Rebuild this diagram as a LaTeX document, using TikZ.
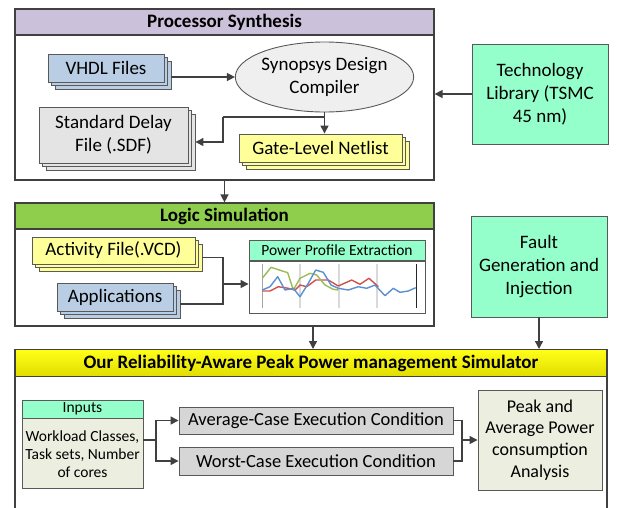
\documentclass[tikz,border=0pt]{standalone}
\usepackage{fontspec}
\setmainfont{Carlito}
\usetikzlibrary{arrows.meta,shapes.geometric,shadows,calc}
\definecolor{linec}{HTML}{404040}
\definecolor{boxline}{HTML}{595959}
\definecolor{arrc}{HTML}{404040}
\definecolor{lav}{HTML}{CCC1DA}
\definecolor{lsgreen}{HTML}{8FCD4C}
\definecolor{simyel}{HTML}{FAF500}
\definecolor{mint}{HTML}{94FFCA}
\definecolor{vblue}{HTML}{B9CDE5}
\definecolor{yel}{HTML}{FFFF99}
\definecolor{sdfg}{HTML}{E4E4E4}
\definecolor{ellfill}{HTML}{EFEFEF}
\definecolor{beige}{HTML}{ECEEE0}
\definecolor{avgg}{HTML}{D6D6D6}
\definecolor{sred}{HTML}{D0504D}
\definecolor{sgreen}{HTML}{9BBB59}
\definecolor{sblue}{HTML}{5B8FD0}
\begin{document}
\begin{tikzpicture}[x=1pt,y=-1pt,
  every node/.style={inner sep=0pt, align=center},
  panel/.style={draw=linec, line width=1.2pt, fill=white},
  head/.style={draw=linec, line width=1.2pt, font=\bfseries\fontsize{19}{23}\selectfont},
  big/.style={font=\fontsize{19}{23}\selectfont},
  stk/.style={draw=boxline, line width=0.9pt, fill=#1,
    copy shadow={shadow xshift=7pt, shadow yshift=-7pt, fill=#1, draw=boxline, line width=0.9pt},
    copy shadow={shadow xshift=3.5pt, shadow yshift=-3.5pt, fill=#1, draw=boxline, line width=0.9pt}},
  plain/.style={draw=boxline, line width=0.9pt, fill=#1},
  arr/.style={draw=arrc, line width=1.4pt, -{Triangle[length=8pt,width=8pt]}},
  conn/.style={draw=arrc, line width=1.4pt}]
\useasboundingbox (0,0) rectangle (617,507);
\clip (0,0) rectangle (617,507);

% ---------- Processor Synthesis ----------
\node[panel, minimum width=419pt, minimum height=171pt] (psbox) at (224.5,94.5) {};
\node[head, fill=lav, minimum width=419pt, minimum height=26pt, anchor=north] (pshead) at (psbox.north) {Processor Synthesis};
\node[stk=vblue, big, minimum width=116pt, minimum height=28pt] (vhdl) at (106,68) {VHDL Files};
\node[ellipse, draw=gray!70!black, line width=0.9pt, fill=ellfill, big, minimum width=167pt, minimum height=70pt] (ell) at (324.5,77) {Synopsys Design\\Compiler};
\node[stk=sdfg, big, minimum width=149pt, minimum height=56pt] (sdf) at (113.5,135) {Standard Delay\\File (.SDF)};
\node[stk=yel, big, minimum width=163pt, minimum height=28pt] (gln) at (320.5,148) {Gate-Level Netlist};
\node[plain=mint, big, minimum width=136pt, minimum height=100pt] (tech) at (540,94) {Technology\\Library (TSMC\\45 nm)};

\coordinate (j1) at (223,117);
\draw[arr] ([xshift=7pt]vhdl.east |- ell.west) -- (ell.west);
\draw[arr] (ell.south) -- (ell.south |- gln.north);
\draw[conn] (ell.south |- j1) -- (j1);
\draw[arr] (j1) |- ([shift={(7,7)}]sdf.east);
\draw[arr] (tech.west) -- (tech.west -| psbox.east);

% ---------- Logic Simulation ----------
\node[panel, minimum width=419pt, minimum height=123pt] (lsbox) at (224.5,264.5) {};
\node[head, fill=lsgreen, minimum width=419pt, minimum height=26pt, anchor=north] (lshead) at (lsbox.north) {Logic Simulation};
\draw[arr] (psbox.south) -- (lshead.north);

\node[stk=yel, big, minimum width=163pt, minimum height=27pt] (act) at (113.5,250.5) {Activity File(.VCD)};
\node[stk=vblue, big, minimum width=116pt, minimum height=28pt] (app) at (115,297) {Applications};
\node[draw=boxline, line width=0.9pt, fill=white, minimum width=176pt, minimum height=52pt, anchor=north] (ppebody) at (337,261) {};
\node[draw=boxline, line width=0.9pt, fill=mint, minimum width=176pt, minimum height=20pt, anchor=south, font=\fontsize{15.5}{18}\selectfont] (ppehead) at (ppebody.north) {Power Profile Extraction};

\coordinate (j2) at (223,284);
\draw[conn] ([shift={(7,7)}]act.east) -| (j2);
\draw[conn] ([shift={(7,7)}]app.east) -| (j2);
\draw[arr] (j2) -- (j2 -| ppebody.west);

% chart
\begin{scope}[line join=round]
\draw[gray!70, line width=1pt] (262,264) -- (262,308);
\foreach \xx in {300,339,377} \draw[gray!30, line width=1.5pt] (\xx,264) -- (\xx,308);
\draw[black!85, line width=1pt] (416,264) -- (416,308);
\draw[sred, line width=1.4pt] plot coordinates {(262.3,291) (270,291) (278.3,286.7) (288.3,288.3) (295,290) (300,285) (306.7,286.7) (315.7,280) (328.3,280) (338.3,286) (351.7,280) (360,284.3) (369,278.3) (378.3,286.7)};
\draw[sgreen, line width=1.4pt] plot coordinates {(262.3,278.3) (271,267.3) (287.7,272.7) (293.3,290) (300,278.3) (310,273.3) (316.7,275) (325,285) (333.3,289.3) (338.3,290)};
\draw[sblue, line width=1.4pt] plot coordinates {(262.3,290) (270,286.7) (277.7,276.7) (285,290) (293.3,288.3) (300,296.7) (308.3,283.3) (315.7,270) (323.3,272.3) (331,285) (338.3,288.3) (348.3,290) (358.3,286.7) (366.7,288.3) (375,285) (385,295.7) (393.3,288.3) (400,292.3) (408.3,291) (415.7,287.7)};
\end{scope}

\node[plain=mint, big, minimum width=136pt, minimum height=101pt] (fault) at (539,266.5) {Fault\\Generation and\\Injection};

% ---------- Simulator ----------
\node[panel, minimum width=592pt, minimum height=190pt, anchor=north] (simbox) at (311,349) {};
\node[head, top color=yellow!90!white, bottom color=simyel!90!black, minimum width=592pt, minimum height=27pt, anchor=north] (simhead) at (simbox.north) {Our Reliability-Aware Peak Power management Simulator};

\coordinate (a3) at (313,0);
\draw[arr] (lsbox.south -| a3) -- (simhead.north -| a3);
\draw[arr] (fault.south) -- (fault.south |- simhead.north);

\node[plain=mint, minimum width=121pt, minimum height=18pt, font=\fontsize{15.5}{18}\selectfont] (inhead) at (82.5,409) {Inputs};
\node[plain=beige, minimum width=121pt, minimum height=70pt, anchor=north, font=\fontsize{15.5}{18}\selectfont] (inbody) at (inhead.south) {Workload Classes,\\Task sets, Number\\of cores};

\node[plain=avgg, font=\fontsize{18.5}{22}\selectfont, minimum width=274pt, minimum height=27pt] (avg) at (316,420.5) {Average-Case Execution Condition};
\node[plain=avgg, font=\fontsize{18.5}{22}\selectfont, minimum width=274pt, minimum height=28pt] (worst) at (316,461) {Worst-Case Execution Condition};
\node[plain=beige, font=\fontsize{18}{21.7}\selectfont, minimum width=124pt, minimum height=100pt] (peak) at (540,440) {Peak and\\Average Power\\consumption\\Analysis};

\coordinate (j3) at (156,440);
\draw[conn] (inbody.east |- j3) -- (j3);
\draw[arr] (j3) |- (avg.west);
\draw[arr] (j3) |- (worst.west);
\coordinate (j4) at (462,440);
\draw[conn] (avg.east) -| (j4);
\draw[conn] (worst.east) -| (j4);
\draw[arr] (j4) -- (peak.west |- j4);
\end{tikzpicture}
\end{document}
